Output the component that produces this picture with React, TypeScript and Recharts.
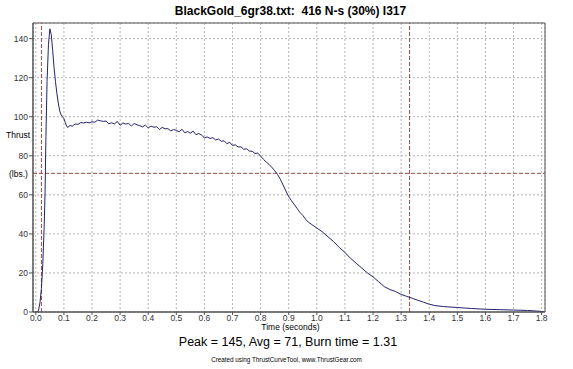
import React from 'react';
import {
  LineChart, Line, XAxis, YAxis, CartesianGrid, ReferenceLine, ReferenceArea,
} from 'recharts';

// thrust curve (seconds / lbs)
const times = [
  0, 0.005, 0.01, 0.015, 0.02, 0.025, 0.03, 0.033, 0.036, 0.04, 0.045, 0.05, 0.055, 0.06, 0.065,
  0.07, 0.075, 0.08, 0.085, 0.09, 0.095, 0.1, 0.105, 0.11, 0.115, 0.12, 0.13, 0.14, 0.15, 0.16,
  0.17, 0.18, 0.19, 0.2, 0.21, 0.22, 0.23, 0.24, 0.25, 0.26, 0.27, 0.28, 0.29, 0.3, 0.31, 0.32,
  0.33, 0.34, 0.35, 0.36, 0.37, 0.38, 0.39, 0.4, 0.41, 0.42, 0.43, 0.44, 0.45, 0.46, 0.47, 0.48,
  0.49, 0.5, 0.51, 0.52, 0.53, 0.54, 0.55, 0.56, 0.57, 0.58, 0.59, 0.6, 0.61, 0.62, 0.63, 0.64,
  0.65, 0.66, 0.67, 0.68, 0.69, 0.7, 0.71, 0.72, 0.73, 0.74, 0.75, 0.76, 0.77, 0.78, 0.79, 0.8,
  0.81, 0.82, 0.83, 0.84, 0.85, 0.86, 0.87, 0.88, 0.89, 0.9, 0.91, 0.92, 0.93, 0.94, 0.95, 0.96,
  0.97, 0.98, 0.99, 1.0, 1.02, 1.04, 1.06, 1.08, 1.1, 1.12, 1.14, 1.16, 1.18, 1.2, 1.22, 1.24,
  1.26, 1.28, 1.3, 1.32, 1.34, 1.36, 1.38, 1.4, 1.42, 1.45, 1.5, 1.55, 1.6, 1.65, 1.7, 1.75,
  1.8, 1.81,
];
const thrust = [
  0, 0, 1, 5, 12, 25, 45, 62, 90, 118, 137, 145, 142, 134, 125,
  118, 112, 107, 103, 101, 100, 99, 97, 95, 94.5, 95.5, 95.2, 96.3, 96.1, 97,
  96.8, 97.2, 96.9, 97.4, 97.2, 98.3, 97.9, 97.6, 97.8, 96.4, 96.9, 96.3, 97.6, 95.6, 96.8, 96.2,
  96.6, 95.3, 96.5, 95.9, 95.4, 94.8, 95.7, 94.3, 95.2, 94.6, 94.9, 93.4, 94.6, 93.8, 93.9, 92.8,
  93.4, 93.1, 92.3, 93.6, 91.8, 92.4, 91.6, 92.6, 90.8, 91.4, 90.6, 89.2, 89.6, 88.9, 89.3, 88.1,
  88.6, 87.4, 87.7, 86.2, 86.9, 85.3, 85.6, 84.5, 84.6, 83.3, 83.6, 82.4, 82.3, 81.2, 81.4, 79.8,
  78.2, 76.8, 75.6, 74.1, 72.4, 70.5, 68, 65, 62, 59, 57, 55, 53, 51, 49.5, 47.5,
  46, 45, 44, 43, 41, 38.5, 36, 33, 30.5, 27.5, 25, 22.5, 20, 18, 15.5, 13,
  11.5, 10.5, 9, 8, 7, 6, 5, 4, 3.3, 2.8, 2.3, 1.8, 1.4, 1.2, 1.0, 0.8,
  0.3, 0,
];

const xTicks = [0, 0.1, 0.2, 0.3, 0.4, 0.5, 0.6, 0.7, 0.8, 0.9, 1.0, 1.1, 1.2, 1.3, 1.4, 1.5, 1.6, 1.7, 1.8];
const yTicks = [0, 20, 40, 60, 80, 100, 120, 140];

const avgThrust = 71;
const burnStart = 0.02;
const burnEnd = 1.33;

const title = 'BlackGold_6gr38.txt:  416 N-s (30%) I317';
const summary = 'Peak = 145, Avg = 71, Burn time = 1.31';
const credit = 'Created using ThrustCurveTool, www.ThrustGear.com';

const data = times.map((t, i) => ({ t, thrust: thrust[i] }));

const FONT = '"Liberation Sans", Arial, sans-serif';
const tickStyle = { fill: '#333', fontSize: 8.5, fontFamily: FONT };

export default function App() {
  return (
    <div style={{ position: 'absolute', left: 0, top: 0, width: 573, height: 369, background: '#fff', fontFamily: FONT }}>
      <LineChart width={573} height={369} data={data} margin={{ top: 23, right: 28, bottom: 37, left: 8 }}>
        <CartesianGrid stroke="#b4b4b4" strokeDasharray="2 2" />
        <XAxis
          dataKey="t"
          type="number"
          domain={[-0.01, 1.812]}
          ticks={xTicks}
          tickFormatter={(v) => v.toFixed(1)}
          tick={tickStyle}
          tickSize={3}
          tickMargin={0}
          height={20}
          stroke="#555"
          allowDataOverflow
        />
        <YAxis
          type="number"
          domain={[0, 148]}
          ticks={yTicks}
          tick={tickStyle}
          tickSize={4}
          tickMargin={1}
          width={25}
          stroke="#555"
          allowDataOverflow
        />
        <ReferenceArea x1={-0.01} x2={1.812} y1={0} y2={148} fill="none" stroke="#555" strokeWidth={1} />
        <ReferenceLine y={avgThrust} stroke="#a04848" strokeDasharray="4 2" />
        <ReferenceLine x={burnStart} stroke="#a04848" strokeDasharray="4 2" />
        <ReferenceLine x={burnEnd} stroke="#a04848" strokeDasharray="4 2" />
        <Line
          type="linear"
          dataKey="thrust"
          stroke="#23236e"
          strokeWidth={1}
          dot={false}
          isAnimationActive={false}
        />
      </LineChart>

      <div style={{ position: 'absolute', left: 0, width: 581, top: 4, textAlign: 'center', fontSize: 12, fontWeight: 'bold', color: '#000', whiteSpace: 'pre' }}>
        {title}
      </div>
      <div style={{ position: 'absolute', left: 6, top: 130, fontSize: 8.5, color: '#000' }}>Thrust</div>
      <div style={{ position: 'absolute', left: 9, top: 169, fontSize: 8.5, color: '#000' }}>(lbs.)</div>
      <div style={{ position: 'absolute', left: 0, width: 581, top: 322, textAlign: 'center', fontSize: 8.5, color: '#000' }}>
        Time (seconds)
      </div>
      <div style={{ position: 'absolute', left: 0, width: 576, top: 335, textAlign: 'center', fontSize: 12.5, color: '#000' }}>
        {summary}
      </div>
      <div style={{ position: 'absolute', left: 0, width: 573, top: 356, textAlign: 'center', fontSize: 6.3, color: '#000' }}>
        {credit}
      </div>
    </div>
  );
}
